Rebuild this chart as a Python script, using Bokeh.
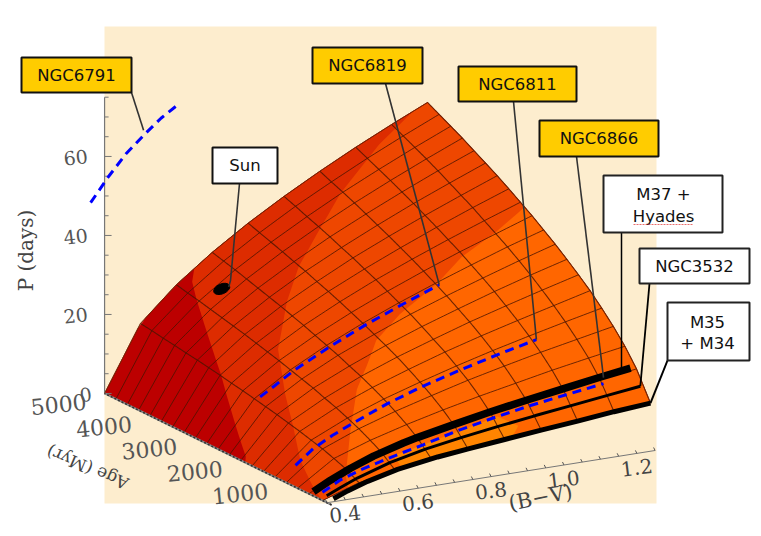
import numpy as np
from bokeh.plotting import figure
from bokeh.embed import file_html
from bokeh.resources import INLINE
from bokeh.core.properties import value

# ---------------- data ----------------
bv_grid = [0.4, 0.5, 0.6, 0.7, 0.8, 0.9, 1.0, 1.1, 1.2, 1.3]
age_grid = [200, 500, 750, 1000, 1250, 1500, 1750, 2000, 2250, 2500, 2750,
            3000, 3250, 3500, 3750, 4000, 4250, 4500, 4750, 5000]
period_table = [
    [0, 3.0, 4.6, 5.9, 7.0, 8.0, 8.9, 9.7, 10.6, 11.3],
    [0, 4.9, 7.4, 9.4, 11.2, 12.8, 14.3, 15.7, 17.0, 18.2],
    [0, 6.0, 9.1, 11.6, 13.8, 15.8, 17.6, 19.4, 21.0, 22.5],
    [0, 7.0, 10.6, 13.5, 16.0, 18.4, 20.5, 22.5, 24.3, 26.1],
    [0, 7.8, 11.9, 15.2, 18.0, 20.6, 23.0, 25.2, 27.3, 29.3],
    [0, 8.6, 13.1, 16.7, 19.8, 22.7, 25.3, 27.7, 30.0, 32.3],
    [0, 9.3, 14.1, 18.1, 21.5, 24.5, 27.4, 30.0, 32.5, 34.9],
    [0, 10.0, 15.2, 19.3, 23.0, 26.3, 29.3, 32.2, 34.9, 37.4],
    [0, 10.6, 16.1, 20.6, 24.4, 28.0, 31.2, 34.2, 37.1, 39.8],
    [0, 11.2, 17.0, 21.7, 25.8, 29.5, 32.9, 36.1, 39.2, 42.0],
    [0, 11.8, 17.9, 22.8, 27.1, 31.0, 34.6, 38.0, 41.1, 44.2],
    [0, 12.3, 18.7, 23.9, 28.4, 32.5, 36.2, 39.7, 43.0, 46.2],
    [0, 12.9, 19.5, 24.9, 29.6, 33.8, 37.7, 41.4, 44.9, 48.2],
    [0, 13.4, 20.3, 25.9, 30.7, 35.2, 39.2, 43.0, 46.6, 50.1],
    [0, 13.9, 21.0, 26.8, 31.9, 36.4, 40.6, 44.6, 48.3, 51.9],
    [0, 14.3, 21.7, 27.7, 32.9, 37.7, 42.0, 46.1, 50.0, 53.6],
    [0, 14.8, 22.4, 28.6, 34.0, 38.9, 43.4, 47.6, 51.6, 55.4],
    [0, 15.2, 23.1, 29.5, 35.0, 40.0, 44.7, 49.0, 53.1, 57.0],
    [0, 15.7, 23.7, 30.3, 36.0, 41.2, 45.9, 50.4, 54.6, 58.6],
    [0, 16.1, 24.4, 31.1, 37.0, 42.3, 47.2, 51.8, 56.1, 60.2],
]

# colour bands: the surface is coloured where B-V >= boundary(age)
band1_age = [200, 1900, 1970, 3180, 4560, 4850, 5000]
band1_bv = [0.40, 0.40, 0.41, 0.497, 0.60, 0.625, 0.65]
band2_age = [200, 560, 1125, 2220, 2930, 3520, 3890, 4180, 4510, 4840, 5000]
band2_bv = [0.40, 0.42, 0.455, 0.55, 0.62, 0.72, 0.80, 0.89, 0.995, 1.145, 1.26]
band3_age = [200, 410, 1030, 1600, 1860, 2150, 2330, 2490, 2670, 2770, 2910]
band3_bv = [0.47, 0.49, 0.58, 0.67, 0.73, 0.793, 0.88, 1.005, 1.095, 1.2, 1.3]
patch4_age = [200, 400, 450, 300, 200]
patch4_bv = [0.62, 0.62, 0.912, 0.95, 0.92]

# isochrones: B-V and period along each cluster's curve
ngc6791_bv = [0.744, 0.794, 0.843, 0.893, 0.942, 0.994]
ngc6791_p = [26.3, 32.1, 37.1, 41.1, 44.7, 47.7]
ngc6791_age = 8000
ngc6819_bv = [0.51, 0.55, 0.6, 0.7, 0.8, 0.9, 1.005]
ngc6819_p = [11.8, 14.0, 16.9, 21.5, 25.6, 29.2, 32.8]
ngc6819_age = 2450
ngc6811_bv = [0.447, 0.496, 0.548, 0.603, 0.7, 0.8, 0.9, 1.0, 1.11]
ngc6811_p = [2.7, 6.2, 8.7, 10.9, 14.5, 17.5, 20.0, 22.3, 24.6]
ngc6811_age = 1170
ngc6866_bv = [0.431, 0.481, 0.536, 0.599, 0.654, 0.709, 0.8, 0.9, 1.0, 1.1, 1.203]
ngc6866_p = [0.2, 2.6, 4.3, 5.8, 7.0, 8.1, 10.2, 12.0, 13.6, 14.9, 16.2]
ngc6866_age = 450
m37_bv = [0.415, 0.462, 0.517, 0.58, 0.662, 0.7, 0.8, 0.9, 1.0, 1.1, 1.2, 1.286]
m37_p = [0.2, 2.4, 4.6, 6.7, 8.8, 9.6, 11.4, 13.1, 14.6, 16.0, 17.4, 18.5]
m37_age = 520
ngc3532_bv = [0.429, 0.467, 0.513, 0.604, 0.7, 0.8, 0.9, 1.0, 1.1, 1.2, 1.29]
ngc3532_p = [0.0, 1.5, 3.2, 5.8, 7.7, 9.2, 10.5, 11.7, 12.8, 13.9, 14.9]
ngc3532_age = 340
m35_bv = [0.43, 0.469, 0.524, 0.606, 0.716, 0.8, 0.9, 1.0, 1.1, 1.2, 1.3]
m35_p = [0.0, 1.4, 3.0, 4.8, 6.3, 7.1, 8.0, 8.9, 9.7, 10.6, 11.3]
m35_age = 200
sun_bv, sun_age = 0.65, 4400

p_ticks = [0, 20, 40, 60]
p_tick_labels = ["0", "20", "40", "60"]
age_ticks = [1000, 2000, 3000, 4000, 5000]
age_tick_labels = ["1000", "2000", "3000", "4000", "5000"]
bv_ticks = [0.4, 0.6, 0.8, 1.0, 1.2]
bv_tick_labels = ["0.4", "0.6", "0.8", "1.0", "1.2"]

box_names = ["NGC6791", "NGC6819", "NGC6811", "NGC6866", "Sun"]
box_left = [21, 312, 458, 539, 212]
box_right = [131, 422, 576, 658, 277]
box_top = [57, 47, 66, 120, 147]
box_bottom = [92, 83, 101, 156, 183]
box_fill = ["#FFCC00", "#FFCC00", "#FFCC00", "#FFCC00", "#FFFFFF"]

# ---------------- projection of the 3D axes on the page ----------------
X0, Y0 = 322.0, 500.0
XB, YB = 364.4, -58.0
XA, YA = -45.4, -22.3
XC, YC = -5.0, 2.0     # slight perspective at the far corner
KP = 4.0
P_AXIS_SCALE = 3.95

bv_a = np.array(bv_grid)
age_a = np.array(age_grid, dtype=float)
tab = np.array(period_table, dtype=float)


def floor_xy(bv, age):
    bv = np.asarray(bv, dtype=float)
    age = np.asarray(age, dtype=float)
    cross = (bv - 0.4) / 0.9 * (age - 200) / 4800
    return (X0 + XB * (bv - 0.4) + XA * (age - 200) / 1000 + XC * cross,
            Y0 + YB * (bv - 0.4) + YA * (age - 200) / 1000 + YC * cross)


def surface_p(bv, age):
    i = np.clip(np.searchsorted(bv_a, bv, side="right") - 1, 0, len(bv_a) - 2)
    j = np.clip(np.searchsorted(age_a, age, side="right") - 1, 0, len(age_a) - 2)
    s = (bv - bv_a[i]) / (bv_a[i + 1] - bv_a[i])
    t = (age - age_a[j]) / (age_a[j + 1] - age_a[j])
    return ((1 - s) * (1 - t) * tab[j, i] + s * (1 - t) * tab[j, i + 1]
            + (1 - s) * t * tab[j + 1, i] + s * t * tab[j + 1, i + 1])


def surf_xy(bv, age):
    bv = np.asarray(bv, dtype=float)
    age = np.asarray(age, dtype=float)
    x, y = floor_xy(bv, age)
    return x, y - KP * surface_p(bv, age)


def curve_xy(bvs, ps, age):
    x, y = floor_xy(np.array(bvs), np.full(len(bvs), float(age)))
    return x, y - KP * np.array(ps)


def band_polygon(ages, bvs):
    """region B-V >= boundary(age)"""
    a_dense = np.unique(np.concatenate([np.linspace(ages[0], ages[-1], 80), ages]))
    b_dense = np.interp(a_dense, ages, bvs)
    left_x, left_y = surf_xy(b_dense, a_dense)
    top_b = np.linspace(b_dense[-1], 1.3, 40)
    tx, ty = surf_xy(top_b, np.full_like(top_b, a_dense[-1]))
    right_a = a_dense[::-1]
    rx, ry = surf_xy(np.full_like(right_a, 1.3), right_a)
    near_b = np.linspace(1.3, b_dense[0], 40)
    nx, ny = surf_xy(near_b, np.full_like(near_b, a_dense[0]))
    return (np.concatenate([left_x, tx, rx, nx]), np.concatenate([left_y, ty, ry, ny]))


W, H = 753, 528
p = figure(width=W, height=H, x_range=(0, W), y_range=(H, 0),
           output_backend="svg", toolbar_location=None, min_border=0,
           background_fill_color="white", border_fill_color="white")
p.axis.visible = False
p.grid.visible = False
p.outline_line_color = None

# page panel
p.quad(left=[104], right=[656], top=[26], bottom=[503], fill_color="#FDEDCE", line_color=None)

# surface colours
x, y = band_polygon(np.array([200.0, 5000.0]), np.array([0.4, 0.4]))
p.patch(x, y, fill_color="#BC0000", line_color="#BC0000", line_width=0.5)
for ages, bvs, col in [(band1_age, band1_bv, "#DD2C00"),
                       (band2_age, band2_bv, "#EE4700"),
                       (band3_age, band3_bv, "#FF6600")]:
    x, y = band_polygon(np.array(ages, dtype=float), np.array(bvs))
    p.patch(x, y, fill_color=col, line_color=None)
x, y = surf_xy(np.array(patch4_bv), np.array(patch4_age, dtype=float))
p.patch(x, y, fill_color="#FF8400", line_color=None)

# mesh
GRID = "#4a1400"
fine_bv = np.linspace(0.4, 1.3, 91)
fine_age = np.linspace(200, 5000, 241)
for a in age_grid:
    xs, ys = surf_xy(fine_bv, np.full_like(fine_bv, float(a)))
    p.line(xs, ys, line_color=GRID, line_width=1, line_alpha=0.8)
for b in bv_grid[1:]:
    xs, ys = surf_xy(np.full_like(fine_age, b), fine_age)
    p.line(xs, ys, line_color=GRID, line_width=1.1, line_alpha=0.8)

# axes
pxa, pya = floor_xy(0.4, 5000)
p.line([float(pxa)] * 2, [float(pya), float(pya) - P_AXIS_SCALE * 75], line_color="#777777", line_width=1.2)
minor_p = np.arange(0, 76, 5)
p.segment(x0=np.full_like(minor_p, pxa, dtype=float), x1=np.where(minor_p % 20 == 0, pxa + 7, pxa + 4),
          y0=pya - P_AXIS_SCALE * minor_p, y1=pya - P_AXIS_SCALE * minor_p, line_color="#777777", line_width=1)
p.text(x=[float(pxa) - 29 if v else float(pxa) - 19 for v in p_ticks],
       y=[float(pya) - P_AXIS_SCALE * v + 1 for v in p_ticks], text=p_tick_labels,
       text_font=value("DejaVu Serif"), text_font_size="19px", text_color="#555555",
       text_align="center", text_baseline="middle", angle=0.12)
p.text(x=[25], y=[250], text=["P (days)"], text_font=value("DejaVu Serif"), text_font_size="20px",
       text_color="#444444", text_align="center", text_baseline="middle", angle=np.pi / 2)

ax_age = np.array([0.0, 5000.0])
axx, axy = floor_xy(np.array([0.4, 0.4]), ax_age)
p.line(axx, axy, line_color="#8a8a8a", line_width=2)
p.line(axx, axy, line_color="#333333", line_width=1.6, line_dash="2 2")
lx, ly = floor_xy(np.full(len(age_ticks), 0.4), np.array(age_ticks, dtype=float))
p.text(x=lx - 46, y=ly + 11, text=age_tick_labels, text_font=value("DejaVu Serif"),
       text_font_size="22px", text_color="#555555", text_align="center", text_baseline="middle", angle=0.1)
p.text(x=[87], y=[467], text=["Age (Myr)"], text_font=value("DejaVu Serif"), text_font_size="17px",
       text_color="#444444", text_align="center", text_baseline="middle", angle=2.74)

BV_AXIS_AGE = 100.0
bx, by = floor_xy(np.array([0.4, 1.3]), np.array([BV_AXIS_AGE] * 2))
p.line(bx, by, line_color="#777777", line_width=1)
minor_b = np.arange(0.4, 1.301, 0.05)
tx, ty = floor_xy(minor_b, np.full_like(minor_b, BV_AXIS_AGE))
p.segment(x0=tx, y0=ty, x1=tx - 1.5, y1=ty - 3, line_color="#555555", line_width=1)
lx, ly = floor_xy(np.array(bv_ticks), np.full(len(bv_ticks), BV_AXIS_AGE))
p.text(x=lx + 18, y=ly + 11, text=bv_tick_labels, text_font=value("DejaVu Serif"),
       text_font_size="20px", text_color="#444444", text_align="center", text_baseline="middle", angle=0.12)
p.text(x=[540], y=[497], text=["(B\u2212V)"], text_font=value("DejaVu Serif"), text_font_size="21px",
       text_color="#444444", text_align="center", text_baseline="middle", angle=0.2)

# surface rim
for xs, ys in [surf_xy(np.full_like(fine_age, 1.3), fine_age),
               surf_xy(fine_bv, np.full_like(fine_bv, 5000.0))]:
    p.line(xs, ys, line_color="#8a2a00", line_width=1, line_alpha=0.6)

# isochrones
BLUE = "#0000FF"
x6791, y6791 = curve_xy(ngc6791_bv, ngc6791_p, ngc6791_age)
p.line(x6791, y6791, line_color=BLUE, line_width=3, line_dash="9 6")
n6819x, n6819y = curve_xy(ngc6819_bv, ngc6819_p, ngc6819_age)
p.line(n6819x, n6819y, line_color=BLUE, line_width=3, line_dash="9 6")
n6811x, n6811y = curve_xy(ngc6811_bv, ngc6811_p, ngc6811_age)
p.line(n6811x, n6811y, line_color=BLUE, line_width=3, line_dash="9 6")
m37x, m37y = curve_xy(m37_bv, m37_p, m37_age)
p.line(m37x, m37y, line_color="black", line_width=7.5)
n3532x, n3532y = curve_xy(ngc3532_bv, ngc3532_p, ngc3532_age)
p.line(n3532x, n3532y, line_color="black", line_width=3)
m35x, m35y = curve_xy(m35_bv, m35_p, m35_age)
p.line(m35x, m35y, line_color="black", line_width=5)
n6866x, n6866y = curve_xy(ngc6866_bv, ngc6866_p, ngc6866_age)
p.line(n6866x, n6866y, line_color=BLUE, line_width=3, line_dash="9 6")

# Sun
sx, sy = surf_xy(np.array([sun_bv]), np.array([float(sun_age)]))
p.ellipse(x=sx, y=sy, width=17, height=10, angle=0.4, fill_color="black", line_color="black")

# leaders
LEAD = "#333333"
p.line([131, x6791[3]], [92, y6791[3] - 5], line_color=LEAD, line_width=1.6)
p.line([239, 230, float(sx[0]) + 7], [183, 280, float(sy[0]) - 2], line_color=LEAD, line_width=1.6)
p.line([385, n6819x[-1]], [83, n6819y[-1]], line_color=LEAD, line_width=1.6)
p.line([513, n6811x[-1]], [101, n6811y[-1]], line_color=LEAD, line_width=1.6)
p.line([576, n6866x[-1]], [156, n6866y[-1] - 6], line_color=LEAD, line_width=1.6)
p.line([621, 621], [232, m37y[-1]], line_color="black", line_width=1.5)
p.line([649, n3532x[-1]], [283, n3532y[-1]], line_color="black", line_width=1.8)
p.line([667, m35x[-1]], [360, m35y[-1]], line_color="black", line_width=2)

# boxes
p.quad(left=box_left, right=box_right, top=box_top, bottom=box_bottom, fill_color=box_fill,
       line_color="#111111", line_width=2)
p.text(x=[(a + b) / 2 for a, b in zip(box_left, box_right)],
       y=[(a + b) / 2 for a, b in zip(box_top, box_bottom)], text=box_names,
       text_font=value("DejaVu Sans"), text_font_size="16.5px", text_color="#111111",
       text_align="center", text_baseline="middle")
p.quad(left=[603, 639, 667], right=[722, 749, 749], top=[175, 248, 302], bottom=[232, 283, 360],
       fill_color="white", line_color="#222222", line_width=2)
p.text(x=[663, 663, 694, 707, 707], y=[194, 216, 266, 322, 343],
       text=["M37 +", "Hyades", "NGC3532", "M35", "+ M34"],
       text_font=value("DejaVu Sans"), text_font_size="16.5px", text_color="#111111",
       text_align="center", text_baseline="middle")
p.line([633, 692], [224, 224], line_color="#e03030", line_width=1, line_dash="2 1", line_alpha=0.7)

open("out.html", "w").write(file_html(p, INLINE))
